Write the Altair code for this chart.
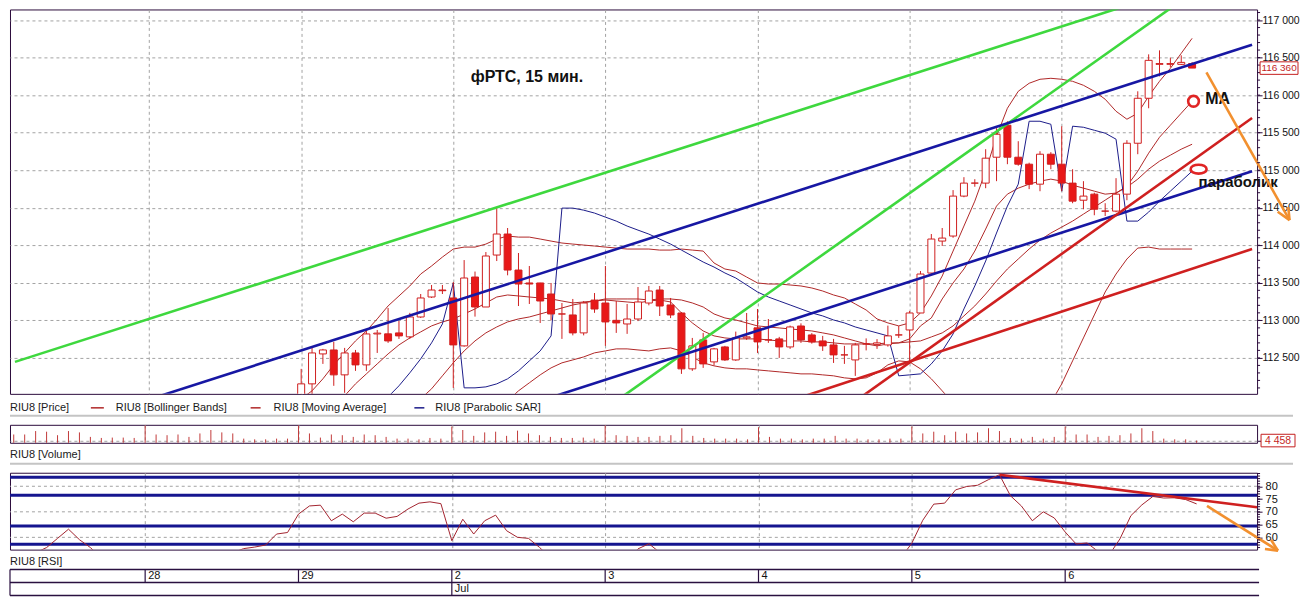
import altair as alt
import pandas as pd

# ---------------- layout ----------------
W = 1249
H_MAIN, H_LEG, H_VOL, H_VLAB, H_RSI, H_BOT = 385, 31, 18, 30, 77, 47

X_DOMAIN = [-26.34, 87.52]
PRICE_DOMAIN = [112021, 117141]
VOL_DOMAIN = [0, 36000]
RSI_DOMAIN = [55.2, 85.3]

DAY_STARTS = [-14, 0, 14, 28, 42, 56, 70]
DAY_LABELS = ["28", "29", "2", "3", "4", "5", "6"]
MONTH_STARTS = [14]
MONTH_LABELS = ["Jul"]
PRICE_TICKS = list(range(112500, 117001, 500))
PRICE_MINOR = list(range(112100, 117101, 100))
RSI_TICKS = [60, 65, 70, 75, 80]
RSI_MINOR = list(range(56, 86))
RSI_GRID = [60, 70, 80]
RSI_LEVELS = [83.5, 76.5, 64.4, 57.3]
VOL_GRID = [5000]

# ---------------- candles (bar index 0 = first visible bar of the 29th) ----------------
candle_idx = list(range(83))
opens = [112000, 112154, 112553, 112606, 112274, 112566, 112407, 112819, 112820, 112833, 112780, 113045, 113311, 113404,
         113298, 112660, 113577, 113178, 113870, 114150, 113670, 113498, 113498, 113351, 113085, 113072, 112833, 113270,
         113231, 113000, 112952, 113018, 113231, 113404, 113205, 113098, 112354, 112740, 112447, 112646, 112473, 112766,
         112900, 112740, 112753, 112646, 112925, 112806, 112726, 112673, 112540, 112473, 112686, 112680, 112673, 112806,
         112872, 113098, 113630, 114056, 114123, 114655, 114828, 114828, 115173, 115599, 115173, 115080, 114814, 115213,
         115080, 114828, 114600, 114681, 114455, 114455, 114681, 115359, 115958, 116410, 116410, 116410, 116420]
highs = [112354, 112633, 112620, 112713, 112633, 112606, 112872, 112872, 113165, 112992, 113100, 113351, 113471, 113471,
         113511, 113803, 113650, 113910, 114495, 114230, 113897, 113724, 113500, 113498, 113231, 113285, 113258, 113364,
         113724, 113258, 113218, 113444, 113458, 113458, 113298, 113110, 112766, 112833, 112633, 112660, 112850, 113098,
         113151, 113018, 112780, 112930, 112960, 112830, 112793, 112753, 112660, 112700, 112760, 112750, 112930, 112925,
         113125, 113657, 114150, 114230, 114735, 114907, 114880, 115280, 115559, 115652, 115386, 115100, 115253, 115240,
         115585, 115013, 114854, 114700, 114560, 114894, 115400, 116051, 116543, 116596, 116500, 116530, 116440]
lows = [111900, 112000, 112420, 112128, 112035, 112327, 112327, 112566, 112700, 112753, 112753, 113032, 113298, 113351,
        112100, 112650, 113050, 113178, 113790, 113600, 113191, 113218, 112965, 113000, 112753, 112800, 112800, 113100,
        112660, 112833, 112820, 112990, 113200, 113058, 113030, 112287, 112327, 112367, 112400, 112460, 112460, 112740,
        112566, 112700, 112500, 112620, 112700, 112690, 112593, 112433, 112420, 112260, 112600, 112620, 112650, 112766,
        112420, 113098, 113600, 113990, 114100, 114640, 114780, 114760, 114854, 115080, 115060, 114748, 114720, 115013,
        114720, 114560, 114480, 114400, 114390, 114440, 114600, 115213, 115825, 116250, 116370, 116400, 116360]
closes = [112154, 112566, 112606, 112274, 112566, 112407, 112819, 112830, 112726, 112793, 113045, 113298, 113404, 113395,
          112673, 113564, 113178, 113857, 114150, 113670, 113484, 113484, 113258, 113085, 113085, 112833, 113231, 113151,
          112979, 112966, 113018, 113245, 113391, 113191, 113072, 112354, 112660, 112420, 112620, 112473, 112766, 112780,
          112713, 112740, 112646, 112912, 112740, 112713, 112660, 112540, 112540, 112673, 112686, 112700, 112793, 112806,
          113098, 113617, 114083, 114096, 114655, 114828, 114828, 115160, 115479, 115173, 115080, 114814, 115213, 115080,
          114828, 114588, 114655, 114480, 114455, 114681, 115359, 115958, 116463, 116420, 116420, 116436, 116360]

# ---------------- indicators ----------------
bb_upper_idx = list(range(0, 83))
bb_upper = [111955, 112061, 112221, 112407, 112567, 112726, 112859, 113019, 113192, 113325, 113458, 113617, 113724, 113843,
            113950, 113976, 113976, 114016, 114083, 114123, 114109, 114109, 114083, 114056, 114030, 114016, 114003, 113990,
            113976, 113963, 113950, 113950, 113950, 113936, 113936, 113950, 113936, 113923, 113764, 113684, 113657, 113577,
            113498, 113484, 113484, 113471, 113458, 113431, 113391, 113338, 113298, 113218, 113138, 113019, 112966, 112926,
            112966, 113099, 113325, 113591, 113923, 114256, 114588, 114987, 115453, 115825, 116051, 116158, 116211, 116224,
            116211, 116184, 116131, 116051, 115945, 115785, 115679, 115759, 115985, 116184, 116357, 116557, 116756]
bb_mid_idx = list(range(11, 83))
bb_mid = [111955, 112088, 112261,
          112434, 112593, 112726, 112833, 112912, 112979, 113019, 113045, 113085, 113125, 113165, 113205, 113232, 113258,
          113285, 113285, 113285, 113285, 113271, 113285, 113285, 113271, 113232, 113178, 113085, 113032, 113005, 112966,
          112926, 112912, 112899, 112886, 112872, 112859, 112833, 112806, 112766, 112726, 112686, 112660, 112686, 112700,
          112713, 112726, 112779, 112833, 112926, 113059, 113192, 113351, 113524, 113684, 113817, 113950, 114069, 114163,
          114242, 114322, 114415, 114508, 114601, 114695, 114774, 114881, 115014, 115120, 115200, 115280, 115346]
bb_lower_idx = list(range(19, 83))
bb_lower = [111928, 112061, 112168, 112274, 112367, 112434, 112473, 112513, 112567,
            112593, 112620, 112620, 112606, 112593, 112620, 112633, 112593, 112513, 112434, 112394, 112367, 112354, 112354,
            112340, 112327, 112314, 112301, 112287, 112287, 112274, 112261, 112234, 112221, 112234, 112301, 112407, 112460,
            112447, 112354, 112221, 112061, 111902, 111729, 111550, 111420, 111350, 111330, 111380, 111480, 111662, 111902,
            112154, 112460, 112766, 113072, 113378, 113617, 113817, 113963, 113976, 113950, 113950, 113950, 113950]
ma_idx = list(range(4, 83))
ma_vals = [111995, 112154, 112287, 112420, 112553, 112673, 112766, 112846, 112926, 112979,
           113019, 113085, 113152, 113232, 113311, 113338, 113325, 113311, 113298, 113285, 113258, 113232, 113245, 113258,
           113271, 113258, 113245, 113232, 113258, 113271, 113245, 113099, 112966, 112859, 112793, 112766, 112753, 112753,
           112753, 112739, 112726, 112726, 112726, 112713, 112713, 112700, 112686, 112686, 112686, 112686, 112700, 112700,
           112753, 112926, 113032, 113285, 113498, 113684, 113923, 114216, 114522, 114681, 114761, 114814, 114854, 114881,
           114854, 114801, 114761, 114721, 114681, 114695, 114788, 114987, 115227, 115439, 115599, 115759, 115918]
sar_idx = list(range(7, 83))
sar_vals = [111795, 111981, 112128, 112301, 112487, 112700, 112952,
            113498, 112101, 112101, 112114, 112154, 112221, 112327, 112460, 112593, 112793, 114495, 114495, 114468, 114429,
            114375, 114322, 114256, 114202, 114149, 114083, 114016, 113936, 113857, 113777, 113710, 113631, 113564, 113471,
            113378, 113311, 113258, 113205, 113152, 113099, 113059, 113005, 112966, 112912, 112872, 112833, 112793, 112261,
            112274, 112287, 112420, 112593, 112819, 113152, 113458, 113790, 114163, 114522, 114814, 115652, 115652, 115612,
            114721, 115586, 115572, 115532, 115493, 115413, 114322, 114322, 114442, 114588, 114721, 114854, 114987]

vol_idx = list(range(-26, 83))
volumes = [16600, 16600, 23500, 22200, 15200, 23500, 20800, 11800, 9700, 10400, 10400, 9700,
           34700, 16600, 15200, 16600, 11800, 18700, 25600, 20800, 18700, 8300, 6900, 6900, 8300, 8300,
           34700, 18700, 10400, 16600, 15200, 11800, 16600, 15200, 11800, 8300, 8300, 6900, 9700, 8300,
           32600, 25600, 13900, 20800, 22200, 13900, 24300, 18700, 15200, 11800, 9700, 9700, 10400, 8300,
           34700, 15200, 13900, 11800, 11800, 13900, 15200, 29100, 13900, 9700, 8300, 8300, 8300, 6900,
           31200, 11800, 8300, 8300, 6900, 8300, 8300, 13900, 8300, 8300, 6900, 6900, 8300, 8300,
           32600, 18700, 22200, 15200, 22200, 18700, 20800, 29100, 23500, 9700, 8300, 11800, 8300, 11800,
           32600, 16600, 16600, 11800, 13900, 15200, 18700, 29100, 23500, 8300, 6900, 6900, 4458]
last_volume = 4458

rsi_idx = list(range(-26, 83))
rsi_vals = [50, 52, 54, 56.0, 59.6, 63.2, 59.1, 56.0, 52, 48, 46, 45,
            44, 47, 45, 48, 50, 49, 51, 53, 54, 55.6, 56.2, 57.0, 61.3, 61.9,
            69.1, 72.3, 72.6, 66.5, 69.1, 66.1, 69.5, 69.5, 67.5, 68.2, 71.1, 73.4, 73.9, 73.2,
            58.7, 67.1, 61.3, 66.5, 68.7, 62.6, 60.0, 59.6, 56.1, 52, 50, 49, 52, 50,
            47, 48, 51, 55.5, 57.5, 54, 52, 38, 45, 41, 44, 42, 47, 47,
            45, 46, 44, 49, 46, 46, 45, 43, 43, 47, 47, 48, 50, 52,
            57.7, 66.7, 73.0, 73.4, 78.6, 79.9, 80.4, 82.6, 84.5, 76.3, 72.3, 66.5, 70.0, 67.6,
            62.1, 57.4, 57.8, 54.5, 53, 59.4, 68.5, 72.7, 76.0, 75.4, 75.5, 74.8, 73.1]

# hand-drawn trend lines (two anchor points each)
trend_names = ["g1", "g1", "g2", "g2", "b1", "b1", "b2", "b2", "r1", "r1", "r2", "r2"]
trend_i = [-26.34, 80, 25, 85, -26.34, 87.52, 20, 87.52, 50, 87.52, 45, 87.52]
trend_p = [112447, 117379, 111516, 117668, 111372, 116672, 111835, 114987, 111819, 115696, 111928, 113950]
rsi_trend_i = [64, 87.52]
rsi_trend_v = [84.5, 71.8]

last_price = 116360

# annotation anchors (data space)
TITLE_POS = (15.6, 116237)
MA_LABEL_POS = (83.2, 115945)
SAR_LABEL_POS = (82.6, 114840)
MA_MARK_POS = (82.13, 115918)
SAR_MARK_POS = (82.6, 115014)
ARROW_MAIN = {"i1": [83.32, 90.85, 89.88], "i2": [90.97, 90.97, 90.97],
              "p1": [116304, 114508, 114446], "p2": [114335, 114335, 114335]}
ARROW_RSI = {"i1": [82.95, 88.79, 88.24], "i2": [89.43, 89.43, 89.43],
             "v1": [72.3, 59.06, 55.43], "v2": [54.8, 54.8, 54.8]}

# ---------------- styles ----------------
FONT_UI = "Liberation Sans Narrow, Arial Narrow, Liberation Sans, Arial, sans-serif"
FONT_BOLD = "Liberation Sans, Arial, sans-serif"
FRAME = "#2b0b3b"
GRID = "#a3a3a3"
CANDLE = "#e81818"
CANDLE_EDGE = "#cf1f1f"
THIN_RED = "#b02828"
SAR_BLUE = "#1c1c8a"
GREEN = "#3ed83e"
BLUE = "#1717a3"
RED = "#cf2020"
ORANGE = "#f2902f"
LEVEL_BLUE = "#15158f"
SEP = "#c4c4c4"
TABLE = "#2a1040"

ONE = pd.DataFrame({"k": [0]})
RECT_PRICE = "M-1,-0.33L1,-0.33L1,0.33L-1,0.33Z"
RECT_VOL = "M-1,-0.37L1,-0.37L1,0.37L-1,0.37Z"
ELLIPSE = "M-1,0A1,0.56,0,1,1,1,0A1,0.56,0,1,1,-1,0Z"

X_SCALE = alt.Scale(domain=X_DOMAIN, nice=False, zero=False)
X_AXIS = alt.Axis(values=DAY_STARTS, grid=True, gridDash=[3, 3], gridColor=GRID, gridWidth=1,
                  labels=False, ticks=False, domain=False, title=None)


def PX(f="i"):
    return alt.X(f, type="quantitative", scale=X_SCALE, axis=X_AXIS)


PRICE_SCALE = alt.Scale(domain=PRICE_DOMAIN, nice=False, zero=False)
PRICE_AXIS = alt.Axis(orient="right", values=PRICE_TICKS,
                      labelExpr="replace(format(datum.value, ','), ',', ' ')",
                      grid=True, gridDash=[3, 3], gridColor=GRID, tickSize=5, tickColor=FRAME,
                      domain=False, labelFont=FONT_UI, labelFontSize=10.5, labelColor="#111",
                      labelPadding=0, title=None)


def PY(f):
    return alt.Y(f, type="quantitative", scale=PRICE_SCALE, axis=PRICE_AXIS)


VOL_SCALE = alt.Scale(domain=VOL_DOMAIN, nice=False, zero=False)
VOL_AXIS = alt.Axis(orient="right", values=VOL_GRID, labels=False, grid=True, gridDash=[3, 3],
                    gridColor=GRID, tickSize=4, tickColor=FRAME, domain=False, title=None)


def VY(f):
    return alt.Y(f, type="quantitative", scale=VOL_SCALE, axis=VOL_AXIS)


RSI_SCALE = alt.Scale(domain=RSI_DOMAIN, nice=False, zero=False)
RSI_AXIS = alt.Axis(orient="right", values=RSI_TICKS, grid=False, tickSize=5, tickColor=FRAME,
                    domain=False, labelFont=FONT_UI, labelFontSize=11, labelColor="#111",
                    labelPadding=3, title=None)


def RY(f):
    return alt.Y(f, type="quantitative", scale=RSI_SCALE, axis=RSI_AXIS)


def txt(s, x, y, size=11, color="#1a1a1a", font=FONT_UI, weight="normal", align="left"):
    return alt.Chart(ONE).mark_text(text=s, fontSize=size, color=color, font=font, fontWeight=weight,
                                    align=align, baseline="middle").encode(x=alt.value(x), y=alt.value(y))


def hline(x1, x2, y, color, width):
    return alt.Chart(ONE).mark_rule(color=color, strokeWidth=width).encode(
        x=alt.value(x1), x2=alt.value(x2), y=alt.value(y))


def vline(x, y1, y2, color, width):
    return alt.Chart(ONE).mark_rule(color=color, strokeWidth=width).encode(
        x=alt.value(x), y=alt.value(y1), y2=alt.value(y2))


def series_line(idx, vals, color, width=1.0):
    df = pd.DataFrame({"i": idx, "p": vals})
    return alt.Chart(df).mark_line(color=color, strokeWidth=width, clip=True).encode(x=PX(), y=PY("p"))


# ---------------- main price panel ----------------
cdf = pd.DataFrame({"i": candle_idx, "o": opens, "h": highs, "l": lows, "c": closes})
wicks = alt.Chart(cdf).mark_rule(color=CANDLE_EDGE, strokeWidth=1, clip=True).encode(
    x=PX(), y=PY("l"), y2=alt.Y2("h"))
bodies = alt.Chart(cdf).mark_bar(size=7, stroke=CANDLE_EDGE, strokeWidth=1, clip=True).encode(
    x=PX(), y=PY("o"), y2=alt.Y2("c"),
    fill=alt.condition("datum.c >= datum.o", alt.value("white"), alt.value(CANDLE)))

tdf = pd.DataFrame({"name": trend_names, "i": trend_i, "p": trend_p})
trends = alt.Chart(tdf).mark_line(strokeWidth=2.6, clip=True).encode(
    x=PX(), y=PY("p"), detail="name:N",
    color=alt.Color("name:N", legend=None,
                    scale=alt.Scale(domain=["g1", "g2", "b1", "b2", "r1", "r2"],
                                    range=[GREEN, GREEN, BLUE, BLUE, RED, RED])))


def ann_text(s, pos, size):
    df = pd.DataFrame({"i": [pos[0]], "p": [pos[1]]})
    return alt.Chart(df).mark_text(text=s, fontSize=size, fontWeight="bold", font=FONT_BOLD, color="#111",
                                   align="left", baseline="middle").encode(x=PX(), y=PY("p"))


title_t = ann_text("фРТС, 15 мин.", TITLE_POS, 16)
ma_t = ann_text("MA", MA_LABEL_POS, 16)
sar_t = ann_text("параболик", SAR_LABEL_POS, 15)

ma_mark = alt.Chart(pd.DataFrame({"i": [MA_MARK_POS[0]], "p": [MA_MARK_POS[1]]})).mark_point(
    shape="circle", size=115, filled=False, fill="white", fillOpacity=1, stroke="#e02424",
    strokeWidth=2.6, opacity=1).encode(x=PX(), y=PY("p"))
sar_mark = alt.Chart(pd.DataFrame({"i": [SAR_MARK_POS[0]], "p": [SAR_MARK_POS[1]]})).mark_point(
    shape=ELLIPSE, size=256, filled=False, fill="white", fillOpacity=1, stroke="#e02424",
    strokeWidth=2.6, opacity=1).encode(x=PX(), y=PY("p"))

arrow_main = alt.Chart(pd.DataFrame(ARROW_MAIN)).mark_rule(color=ORANGE, strokeWidth=2.6).encode(
    x=PX("i1"), x2=alt.X2("i2"), y=PY("p1"), y2=alt.Y2("p2"))

minor_main = alt.Chart(pd.DataFrame({"p": PRICE_MINOR})).mark_rule(color=FRAME, strokeWidth=1).encode(
    y=PY("p"), x=alt.value(W), x2=alt.value(W + 3))

lp = pd.DataFrame({"p": [last_price], "t": ["116 360"]})
price_box = alt.Chart(lp).mark_point(shape=RECT_PRICE, size=38 * 38, filled=True, fill="white",
                                     stroke="#c41e1e", strokeWidth=1, opacity=1).encode(
    x=alt.value(W + 22), y=PY("p"))
price_txt = alt.Chart(lp).mark_text(fontSize=10, font=FONT_UI, color="#c41e1e", align="center",
                                    baseline="middle").encode(x=alt.value(W + 22), y=PY("p"), text="t:N")

main = alt.layer(
    series_line(bb_upper_idx, bb_upper, THIN_RED),
    series_line(bb_mid_idx, bb_mid, THIN_RED),
    series_line(bb_lower_idx, bb_lower, THIN_RED),
    series_line(ma_idx, ma_vals, THIN_RED),
    series_line(sar_idx, sar_vals, SAR_BLUE),
    wicks, bodies, trends,
    title_t, ma_t, sar_t, ma_mark, sar_mark, arrow_main,
    minor_main, price_box, price_txt,
).properties(width=W, height=H_MAIN)

# ---------------- legend row ----------------
legend = alt.layer(
    txt("RIU8 [Price]", 0, 14),
    hline(81, 94, 14, THIN_RED, 1.5), txt("RIU8 [Bollinger Bands]", 106, 14),
    hline(241, 251, 14, THIN_RED, 1.5), txt("RIU8 [Moving Average]", 264, 14),
    hline(405, 415, 14, SAR_BLUE, 1.5), txt("RIU8 [Parabolic SAR]", 426, 14),
    hline(0, W + 36, 22, SEP, 2),
).properties(width=W, height=H_LEG, view=alt.ViewBackground(stroke="transparent"))

# ---------------- volume panel ----------------
vdf = pd.DataFrame({"i": vol_idx, "v": volumes})
vol_bars = alt.Chart(vdf).mark_rule(color="#c23a3a", strokeWidth=1).encode(
    x=PX(), y=VY("v"), y2=alt.datum(0))
lv = pd.DataFrame({"v": [last_volume], "t": ["4 458"]})
vol_box = alt.Chart(lv).mark_point(shape=RECT_VOL, size=34 * 34, filled=True, fill="white",
                                   stroke="#c41e1e", strokeWidth=1, opacity=1).encode(
    x=alt.value(W + 21), y=VY("v"))
vol_txt = alt.Chart(lv).mark_text(fontSize=10.5, font=FONT_UI, color="#c41e1e", align="center",
                                  baseline="middle").encode(x=alt.value(W + 21), y=VY("v"), text="t:N")
vol = alt.layer(vol_bars, vol_box, vol_txt).properties(width=W, height=H_VOL)

vlab = alt.layer(
    txt("RIU8 [Volume]", 0, 12),
    hline(0, W + 36, 21, SEP, 2),
).properties(width=W, height=H_VLAB, view=alt.ViewBackground(stroke="transparent"))

# ---------------- RSI panel ----------------
rsi_grid = alt.Chart(pd.DataFrame({"v": RSI_GRID})).mark_rule(color=GRID, strokeDash=[3, 3], strokeWidth=1).encode(
    y=RY("v"))
rsi_levels = alt.Chart(pd.DataFrame({"v": RSI_LEVELS})).mark_rule(color=LEVEL_BLUE, strokeWidth=3).encode(
    y=RY("v"))
rsi_line = alt.Chart(pd.DataFrame({"i": rsi_idx, "v": rsi_vals})).mark_line(
    color="#a3242f", strokeWidth=1, clip=True).encode(x=PX(), y=RY("v"))
rsi_trend = alt.Chart(pd.DataFrame({"i1": [rsi_trend_i[0]], "i2": [rsi_trend_i[1]],
                                    "v1": [rsi_trend_v[0]], "v2": [rsi_trend_v[1]]})).mark_rule(
    color=RED, strokeWidth=2.6).encode(x=PX("i1"), x2=alt.X2("i2"), y=RY("v1"), y2=alt.Y2("v2"))
rsi_arrow = alt.Chart(pd.DataFrame(ARROW_RSI)).mark_rule(color=ORANGE, strokeWidth=2.6).encode(
    x=PX("i1"), x2=alt.X2("i2"), y=RY("v1"), y2=alt.Y2("v2"))
rsi_minor = alt.Chart(pd.DataFrame({"v": RSI_MINOR})).mark_rule(color=FRAME, strokeWidth=1).encode(
    y=RY("v"), x=alt.value(W), x2=alt.value(W + 3))
rsi = alt.layer(rsi_grid, rsi_levels, rsi_line, rsi_trend, rsi_arrow, rsi_minor).properties(
    width=W, height=H_RSI)

# ---------------- date table ----------------
BX = alt.X("b", type="quantitative", scale=X_SCALE, axis=None)
days_df = pd.DataFrame({"b": DAY_STARTS, "t": DAY_LABELS})
month_df = pd.DataFrame({"b": MONTH_STARTS, "t": MONTH_LABELS})
day_lines = alt.Chart(days_df).mark_rule(color=TABLE, strokeWidth=1.2).encode(
    x=BX, y=alt.value(20), y2=alt.value(33))
day_text = alt.Chart(days_df).mark_text(align="left", dx=3, fontSize=11, font=FONT_UI, color="#111",
                                        baseline="middle").encode(x=BX, y=alt.value(26.5), text="t:N")
month_lines = alt.Chart(month_df).mark_rule(color=TABLE, strokeWidth=1.2).encode(
    x=BX, y=alt.value(33), y2=alt.value(46))
month_text = alt.Chart(month_df).mark_text(align="left", dx=3, fontSize=11, font=FONT_UI, color="#111",
                                           baseline="middle").encode(x=BX, y=alt.value(39.5), text="t:N")
bottom = alt.layer(
    txt("RIU8 [RSI]", 0, 12),
    hline(0, W + 2, 20, TABLE, 1.5), hline(0, W + 2, 33, TABLE, 1.5), hline(0, W + 2, 46, TABLE, 1.5),
    vline(0, 20, 46, TABLE, 1.2),
    day_lines, day_text, month_lines, month_text,
).properties(width=W, height=H_BOT, view=alt.ViewBackground(stroke="transparent"))

chart = alt.vconcat(main, legend, vol, vlab, rsi, bottom, spacing=0, bounds="flush",
                    padding=0, background="white").configure_view(stroke=FRAME, strokeWidth=1)

chart.save("out.html", embed_options={"renderer": "svg", "actions": False})
